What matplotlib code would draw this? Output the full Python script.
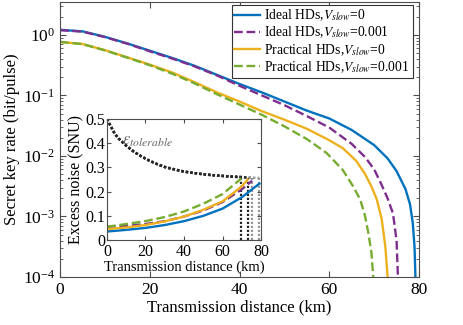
import numpy as np
import matplotlib
matplotlib.use("Agg")
import matplotlib.pyplot as plt
from matplotlib import ticker

plt.rcParams['font.family'] = ['Liberation Serif', 'DejaVu Serif']
plt.rcParams['mathtext.fontset'] = 'stix'

# secret key rate, log10 values
d_ideal_0 = [0, 5, 10, 15, 20, 25, 30, 35, 40, 45, 50, 55, 60, 65, 70, 73, 75, 77, 78, 78.6, 79.0, 79.2]
k_ideal_0 = [0.085, 0.06, -0.03, -0.14, -0.26, -0.38, -0.51, -0.66, -0.81, -0.95, -1.10, -1.25,
             -1.38, -1.57, -1.82, -2.04, -2.25, -2.55, -2.8, -3.1, -3.5, -4.0]
d_ideal_1 = [0, 5, 10, 15, 20, 25, 30, 35, 40, 45, 50, 55, 60, 65, 68, 70, 71.5, 73, 74.2, 75, 75.3]
k_ideal_1 = [0.08, 0.055, -0.035, -0.145, -0.27, -0.39, -0.52, -0.67, -0.84, -1.0, -1.16, -1.34,
             -1.53, -1.80, -2.02, -2.22, -2.45, -2.7, -2.95, -3.4, -4.0]
d_prac_0 = [0, 5, 10, 15, 20, 25, 30, 35, 40, 45, 50, 55, 60, 63, 66, 68, 69.5, 70.6, 71.7, 72.5, 73]
k_prac_0 = [-0.115, -0.15, -0.25, -0.37, -0.49, -0.62, -0.78, -0.95, -1.1, -1.26, -1.40, -1.55,
            -1.74, -1.87, -2.08, -2.3, -2.52, -2.72, -3.05, -3.5, -4.0]
d_prac_1 = [0, 5, 10, 15, 20, 25, 30, 35, 40, 45, 50, 55, 59.4, 63, 65.3, 66.9, 68, 68.7, 69.4, 69.8]
k_prac_1 = [-0.115, -0.15, -0.255, -0.375, -0.5, -0.64, -0.8, -0.98, -1.15, -1.32, -1.51, -1.72,
            -1.95, -2.23, -2.5, -2.72, -3.0, -3.27, -3.6, -4.0]

# excess noise (inset)
d_noise = [0, 10, 20, 30, 40, 50, 60, 70]
n_ideal_0 = [0.035, 0.042, 0.05, 0.062, 0.078, 0.1, 0.13, 0.177]
n_ideal_1 = [0.055, 0.058, 0.066, 0.078, 0.097, 0.122, 0.157, 0.21]
n_prac_0 = [0.045, 0.052, 0.062, 0.077, 0.097, 0.125, 0.16, 0.222]
n_prac_1 = [0.055, 0.066, 0.078, 0.095, 0.118, 0.15, 0.19]
end_ideal_0 = (79.1, 0.233)
end_ideal_1 = (75.3, 0.245)
end_prac_0 = (73.0, 0.25)
end_prac_1 = (69.8, 0.255)

d_tol = [0, 2, 4, 6, 8, 10, 14, 18, 22, 26, 30, 35, 40, 45, 50, 55, 60, 65, 70, 75, 79.1]
e_tol = [0.5, 0.47, 0.44, 0.42, 0.405, 0.39, 0.365, 0.345, 0.328, 0.314, 0.302, 0.292, 0.283,
         0.277, 0.272, 0.268, 0.265, 0.262, 0.26, 0.258, 0.256]

labels = [r'Ideal HDs,$V_{slow}$=0', r'Ideal HDs,$V_{slow}$=0.001',
          r'Practical HDs,$V_{slow}$=0', r'Practical HDs,$V_{slow}$=0.001']
colors = ['#0072BD', '#7E2F8E', '#EDB120', '#77AC30']
styles = ['-', '--', '-', '--']
axcol = '0.3'


def style_axes(ax, fs):
    for s in ax.spines.values():
        s.set_color(axcol)
        s.set_linewidth(0.8)
    ax.tick_params(which='both', direction='in', top=True, right=True, colors=axcol,
                   labelcolor='k', labelsize=fs)


fig = plt.figure(figsize=(4.63, 3.25), dpi=100)
ax = fig.add_axes([0.1296, 0.1477, 0.7754, 0.846])

key_d = [d_ideal_0, d_ideal_1, d_prac_0, d_prac_1]
key_k = [k_ideal_0, k_ideal_1, k_prac_0, k_prac_1]
for d, k, c, ls, lab in zip(key_d, key_k, colors, styles, labels):
    ax.plot(d, 10 ** np.array(k), color=c, ls=ls, lw=1.7, label=lab)

ax.set_yscale('log')
ax.set_xlim(0, 80)
ax.set_ylim(1e-4, 3.5)
ax.set_xticks([0, 20, 40, 60, 80])
ax.set_yticks([1e-4, 1e-3, 1e-2, 1e-1, 1])
ax.yaxis.set_minor_locator(ticker.LogLocator(base=10, subs=np.arange(2, 10), numticks=20))
ax.yaxis.set_minor_formatter(ticker.NullFormatter())
style_axes(ax, 12.5)
ax.tick_params(which='major', length=4)
ax.tick_params(which='minor', length=2)
ax.set_xlabel('Transmission distance (km)', fontsize=12, labelpad=1)
ax.set_ylabel('Secret key rate (bit/pulse)', fontsize=12, labelpad=2)

leg = ax.legend(loc='upper right', bbox_to_anchor=(0.982, 0.99), fontsize=9.8, frameon=True,
                fancybox=False, framealpha=1, edgecolor='0.2', borderpad=0.2,
                labelspacing=0.12, handlelength=1.9, handletextpad=0.3, borderaxespad=0.0)
leg.get_frame().set_linewidth(0.8)

# inset
ins = fig.add_axes([0.231, 0.2615, 0.333, 0.372])
ins.set_facecolor('white')

tol_ends = [end_ideal_0, end_ideal_1, end_prac_0, end_prac_1]
tol_cols = ['0.6', '0.6', '0.15', '0.15']
for (xe, _), tc in zip(tol_ends, tol_cols):
    dt = [x for x in d_tol if x < xe] + [xe]
    et = list(np.array(e_tol)[:len(dt) - 1]) + [e_tol[-1] if xe >= d_tol[-1] else e_tol[len(dt) - 1]]
    ins.plot(dt, et, color=tc, ls=(0, (1, 0.8)), lw=1.8)
    ins.vlines(xe, 0, et[-1], color=tc, ls=(0, (1, 0.8)), lw=1.6)

noise = [n_ideal_0, n_ideal_1, n_prac_0, n_prac_1]
ends = [end_ideal_0, end_ideal_1, end_prac_0, end_prac_1]
for n, e, c, ls in zip(noise, ends, colors, styles):
    dn = d_noise[:len(n)] + [e[0]]
    ins.plot(dn, list(n) + [e[1]], color=c, ls=ls, lw=1.7)

ins.set_xlim(0, 80)
ins.set_ylim(0, 0.5)
ins.set_xticks([0, 20, 40, 60, 80])
ins.set_yticks([0, 0.1, 0.2, 0.3, 0.4, 0.5])
ins.yaxis.set_major_formatter(ticker.FuncFormatter(lambda v, p: '%g' % v))
style_axes(ins, 11.5)
ins.tick_params(length=3, pad=1)
ins.tick_params(axis='x', pad=3)
ins.set_xlabel('Transmission distance (km)', fontsize=10.5, labelpad=0)
ins.set_ylabel('Excess noise (SNU)', fontsize=11.5, labelpad=1)
ins.text(8, 0.41, r'$\varepsilon_{tolerable}$', color='0.4', fontsize=12, va='center')

fig.savefig('out.png', dpi=100)
